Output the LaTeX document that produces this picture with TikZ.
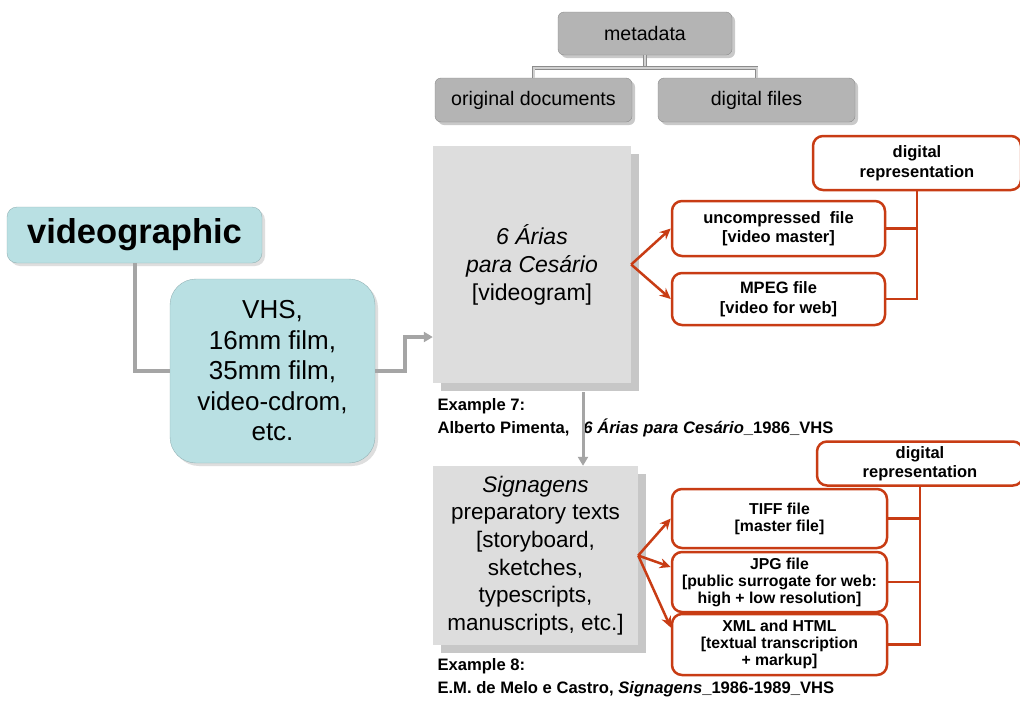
\documentclass[tikz,border=0pt]{standalone}
\usepackage{fontspec}
\setmainfont{Liberation Sans}
\usepackage{tikz}
\usetikzlibrary{arrows.meta,shadows}

\definecolor{repred}{RGB}{200,60,20}
\definecolor{tealfill}{RGB}{185,224,227}
\definecolor{metafill}{RGB}{180,180,180}
\definecolor{itemfill}{RGB}{221,221,221}
\definecolor{linegray}{RGB}{165,165,165}

\tikzset{
  metabox/.style={draw=black!45, fill=metafill, rounded corners=6pt, minimum width=197pt, minimum height=44pt,
    font=\fontsize{19.6}{22}\selectfont, drop shadow={shadow xshift=3pt, shadow yshift=-3pt, fill=black!35, opacity=.6}},
  metaline/.style={draw=black!45, double=black!18, double distance=2pt, line width=0.8pt},
  tealbox/.style={fill=tealfill, draw=tealfill!80!black, align=center,
    drop shadow={shadow xshift=3pt, shadow yshift=-3pt, fill=black!25, opacity=.5}},
  itembox/.style={fill=itemfill, align=center, font=\fontsize{23}{28}\selectfont,
    drop shadow={shadow xshift=8pt, shadow yshift=-8pt, fill=black!22, opacity=1}},
  filebox/.style={draw=repred, line width=2.5pt, fill=white, rounded corners=10pt, align=center,
    minimum width=213pt, font=\bfseries\fontsize{16.5}{19.5}\selectfont},
  grayline/.style={draw=linegray, line width=4pt},
  grayarrow/.style={grayline, -{Triangle[length=9pt,width=10pt]}},
  redline/.style={draw=repred, line width=2.5pt},
  redarrow/.style={redline, -{Stealth[length=11pt,width=10pt]}},
  exnote/.style={anchor=north west, align=left, font=\bfseries\fontsize{16.6}{22.5}\selectfont}
}

\begin{document}
\begin{tikzpicture}[x=1pt,y=-1pt]
\fill[white] (0,0) rectangle (1020,702);
\useasboundingbox (0,0) rectangle (1020,702);

% metadata
\node[metabox, minimum width=174pt, minimum height=43pt] (meta) at (645,33.5) {metadata};
\node[metabox] (orig) at (533.5,100) {original documents};
\node[metabox] (digf) at (756.5,100) {digital files};
\coordinate (metajoin) at (645,68);
\draw[metaline] (meta.south) -- (metajoin);
\draw[metaline] (orig.north) |- (metajoin) -| (digf.north);

% left
\node[tealbox, rounded corners=10pt, minimum width=255pt, minimum height=56pt,
  font=\bfseries\fontsize{34.5}{38}\selectfont] (video) at (134.5,235) {videographic};
\node[tealbox, rounded corners=26pt, minimum width=205pt, minimum height=184pt,
  font=\fontsize{26}{30.5}\selectfont] (carrier) at (272.5,371) {VHS,\\16mm film,\\35mm film,\\video-cdrom,\\etc.};

% examples
\node[itembox, minimum width=198pt, minimum height=237pt] (aria) at (532,264.5)
  {\textit{6 Árias}\\\textit{para Cesário}\\{[}videogram{]}};
\node[itembox, minimum width=205pt, minimum height=179pt, font=\fontsize{22.5}{27.6}\selectfont] (sign) at (535.5,555.5)
  {\textit{Signagens}\\preparatory texts\\{[}storyboard,\\sketches,\\typescripts,\\manuscripts, etc.{]}};
\node[exnote] (ex7) at (434,395) {Example 7:\\Alberto Pimenta,\hspace{14pt}\textit{6 Árias para Cesário}\_1986\_VHS};
\node[exnote] (ex8) at (434,655) {Example 8:\\E.M. de Melo e Castro, \textit{Signagens}\_1986-1989\_VHS};

\draw[grayline] (video.south) |- (carrier.west);
\coordinate (carrierbend) at (405,337);
\draw[grayarrow] (carrier.east) -| (carrierbend) -- (carrierbend -| aria.west);
\draw[grayarrow, line width=3pt] ([xshift=51pt,yshift=-9pt]aria.south) -- ([xshift=47.5pt]sign.north);

% digital representation, video
\node[filebox, minimum width=208pt, minimum height=54pt] (repa) at (917,163) {digital\\representation};
\node[filebox, minimum height=55pt] (unc) at (778.5,228.5) {uncompressed\ \ file\\{[}video master{]}};
\node[filebox, minimum height=52pt] (mpeg) at (778.5,299) {MPEG file\\{[}video for web{]}};
\draw[redarrow] (aria.east) -- (unc.west);
\draw[redarrow] (aria.east) -- (mpeg.west);
\draw[redline] (mpeg.east) -| (repa.south);
\draw[redline] (unc.east) -- (unc.east -| repa.south);

% digital representation, texts
\node[filebox, minimum width=206pt, minimum height=44pt] (repb) at (920,463.5) {digital\\representation};
\node[filebox, minimum width=215pt, minimum height=59pt, font=\bfseries\fontsize{15.8}{17}\selectfont] (tiff) at (779.5,518.5) {TIFF file\\{[}master file{]}};
\node[filebox, minimum width=215pt, minimum height=60pt, font=\bfseries\fontsize{15.8}{17}\selectfont] (jpg) at (779.5,582) {JPG file\\{[}public surrogate for web:\\high + low resolution{]}};
\node[filebox, minimum width=215pt, minimum height=61pt, font=\bfseries\fontsize{15.8}{17}\selectfont] (xml) at (779.5,644.5) {XML and HTML\\{[}textual transcription\\+ markup{]}};
\draw[redarrow] (sign.east) -- (tiff.west);
\draw[redarrow] (sign.east) -- ([yshift=15pt]jpg.west);
\draw[redarrow] (sign.east) -- ([yshift=17pt]xml.west);
\draw[redline] (xml.east) -| (repb.south);
\draw[redline] (tiff.east) -- (tiff.east -| repb.south);
\draw[redline] (jpg.east) -- (jpg.east -| repb.south);
\end{tikzpicture}
\end{document}
